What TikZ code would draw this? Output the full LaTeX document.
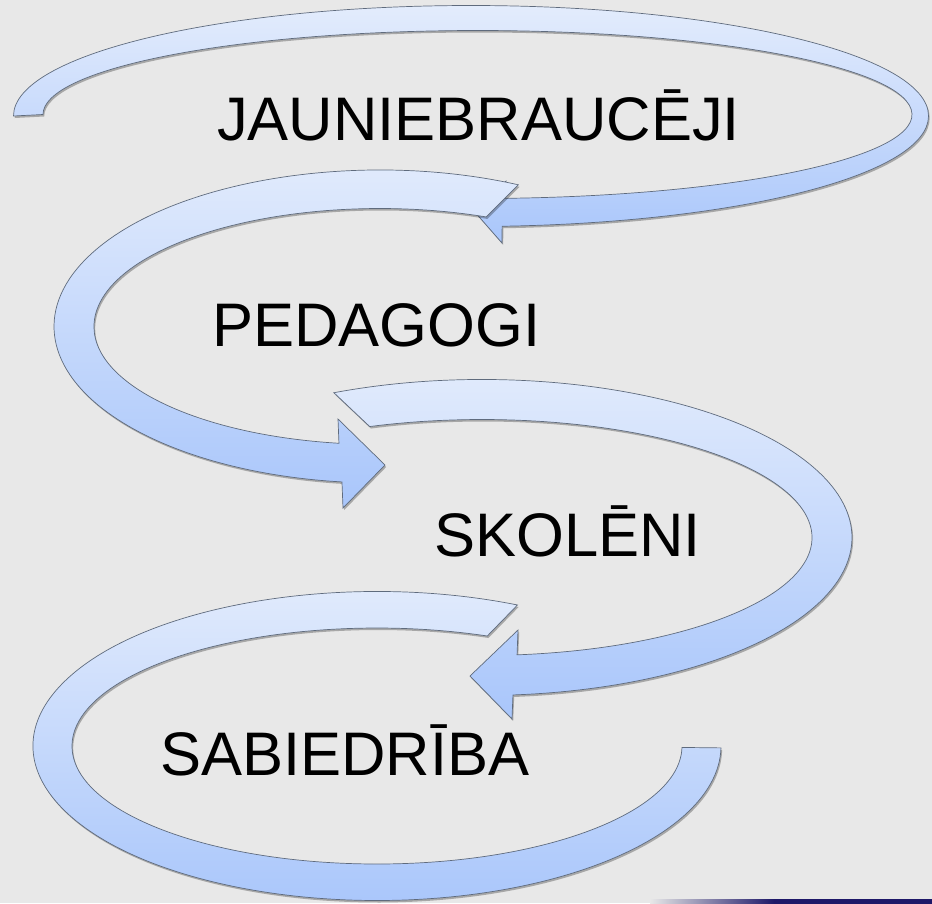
\documentclass[tikz,border=0pt]{standalone}
\usepackage{fontspec}
\setmainfont{Liberation Sans}
\usetikzlibrary{calc,shadows}
\definecolor{bgc}{HTML}{E8E8E8}
\definecolor{arrtop}{HTML}{E3ECFC}
\definecolor{arrbot}{HTML}{A9C6FB}
\definecolor{arrline}{HTML}{5F6B7D}
\definecolor{navyc}{HTML}{1E1868}
\pgfdeclarehorizontalshading{ruleshade}{100bp}{color(0bp)=(bgc); color(25bp)=(bgc); color(47bp)=(navyc); color(100bp)=(navyc)}
\begin{document}
\begin{tikzpicture}[x=1pt,y=-1pt,
  arrowshape/.style={shade, top color=arrtop, bottom color=arrbot, draw=arrline,
    line width=0.7pt, line join=miter,
    drop shadow={shadow xshift=1.2pt, shadow yshift=-2pt, opacity=0.28, fill=black}},
  word/.style={anchor=base west, inner sep=0pt, font=\fontsize{61.5}{72}\selectfont, text=black}]
\fill[bgc] (0,0) rectangle (932,903);
\useasboundingbox (0,0) rectangle (932,903);

% arrow 1 (top)
\coordinate (c1o) at (471,116);
\coordinate (c1i) at (477.5,114.5);
\path[arrowshape] ($(c1o)+(180:457.5 and 110.5)$)
  arc[start angle=180, end angle=446.1, x radius=457.5, y radius=110.5]
  -- (502,243) -- (474,211) -- (506,181)
  -- ($(c1i)+(446.5:434.5 and 84)$)
  arc[start angle=446.5, end angle=180, x radius=434.5, y radius=84] -- cycle;

% arrow 2
\coordinate (c2) at (380,326.5);
\path[arrowshape] ($(c2)+(295.1:326 and 156.5)$)
  arc[start angle=295.1, end angle=96.7, x radius=326, y radius=156.5]
  -- (343,508) -- (385,465) -- (338,419)
  -- ($(c2)+(98.25:286 and 118)$)
  arc[start angle=98.25, end angle=291.8, x radius=286, y radius=118] -- cycle;

% arrow 3
\coordinate (c3) at (482,537.5);
\path[arrowshape] ($(c3)+(246.4:370 and 158)$)
  arc[start angle=246.4, end angle=445.2, x radius=370, y radius=158]
  -- (512,719) -- (470,676) -- (518,630)
  -- ($(c3)+(443.9:330 and 118)$)
  arc[start angle=443.9, end angle=250.1, x radius=330, y radius=118] -- cycle;

% arrow 4 (bottom)
\coordinate (c4) at (377,746);
\path[arrowshape] ($(c4)+(294.1:344 and 154.5)$)
  arc[start angle=294.1, end angle=0.7, x radius=344, y radius=154.5]
  -- ($(c4)+(0.7:305 and 118)$)
  arc[start angle=0.7, end angle=291.2, x radius=305, y radius=118] -- cycle;

% bottom rule
\shade[shading=ruleshade] (650,899) rectangle (932,903);

% texts
\node[word] (t1) at (217,140) {JAUNIEBRAUCĒJI};
\node[word] (t2) at (212,346) {PEDAGOGI};
\node[word] (t3) at (434,556) {SKOLĒNI};
\node[word] (t4) at (160,775) {SABIEDRĪBA};
\end{tikzpicture}
\end{document}
